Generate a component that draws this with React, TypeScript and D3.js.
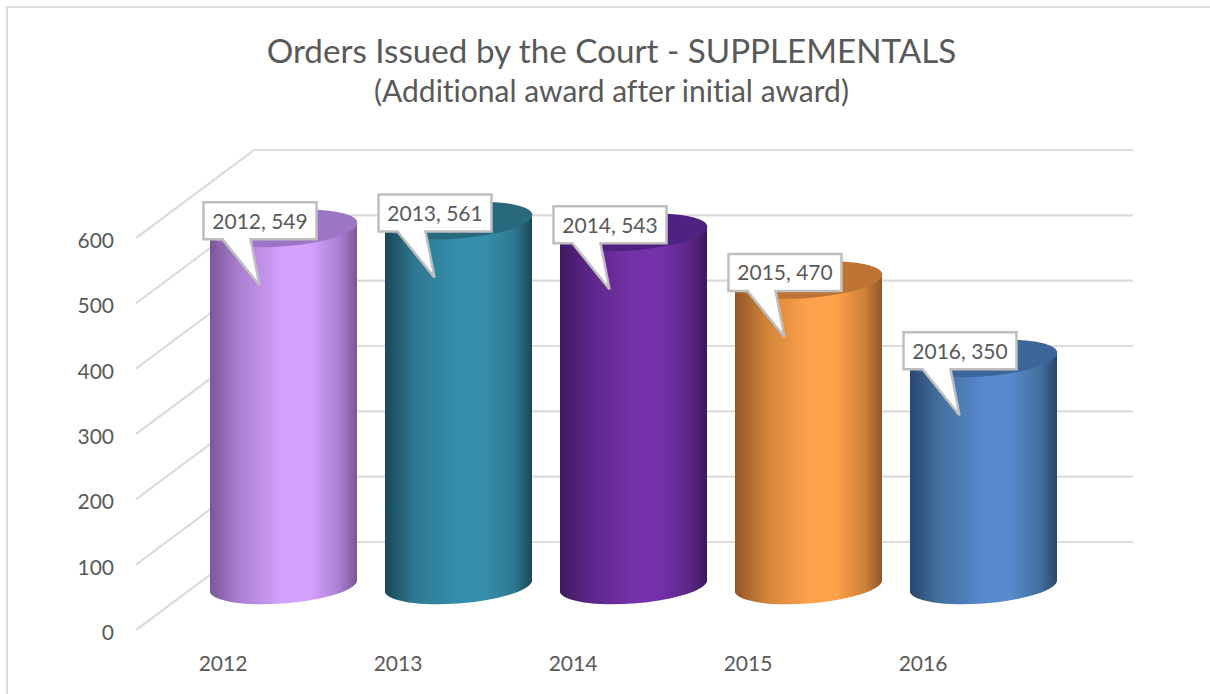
import * as d3 from 'd3';
import React from 'react';

const years = ['2012', '2013', '2014', '2015', '2016'];
const orders = [549, 561, 543, 470, 350];
const yTicks = [0, 100, 200, 300, 400, 500, 600];

// center, edge, top face
const centerColors = ['#d6a2ff', '#358fab', '#7431a9', '#ffa24c', '#5789cd'];
const edgeColors = ['#7c5698', '#1a4857', '#3d195e', '#915628', '#27476e'];
const midColors = ['#a97fd0', '#2e7890', '#5c2788', '#cf8238', '#44709f'];
const topColors = ['#9c75c4', '#28697d', '#4f2180', '#bd7434', '#3c6697'];

const width = 1210;
const height = 694;
const depthX = 118;
const depthY = -88;
const wallRight = 1133;
const cylHalfW = 73.5;
const tilt = 5.5;
const rx = 74;
const ry = 18;
const rot = -4.5;
const fontFamily = 'Lato, "Open Sans", sans-serif';
const textColor = '#595959';
const gridColor = '#dcdcdc';

const yFront = d3.scaleLinear().domain([0, 600]).range([630, 238]);
const xAxisLabel = d3.scalePoint().domain(years).range([223, 923]);
const xFront = 136;

// the cylinders stand about halfway into the floor depth
const cylX = (year: string) => (xAxisLabel(year) as number) + 60.5;
const cylY = (v: number) => yFront(v) + depthY / 2 + 1;

const cylinderBody = (cx: number, topY: number, baseY: number) =>
  `M${cx - cylHalfW},${topY + tilt}` +
  `A${rx},${ry} ${rot} 0 0 ${cx + cylHalfW},${topY - tilt}` +
  `L${cx + cylHalfW},${baseY - tilt}` +
  `A${rx},${ry} ${rot} 0 1 ${cx - cylHalfW},${baseY + tilt}Z`;

const callout = (left: number, top: number) => {
  const w = 113;
  const h = 37;
  return (
    `M${left},${top}H${left + w}V${top + h}H${left + 47}` +
    `L${left + 56},${top + h + 46}L${left + 19},${top + h}H${left}Z`
  );
};

function App() {
  return (
    <svg
      width={width}
      height={height}
      style={{ position: 'absolute', left: 0, top: 0, background: '#fff', fontVariantLigatures: 'none' }}
      fontFamily={fontFamily}
    >
      <defs>
        {years.map((year, i) => (
          <linearGradient key={year} id={`cyl-${year}`} x1="0" x2="1" y1="0" y2="0">
            <stop offset="0" stopColor={edgeColors[i]} />
            <stop offset="0.2" stopColor={midColors[i]} />
            <stop offset="0.5" stopColor={centerColors[i]} />
            <stop offset="0.68" stopColor={centerColors[i]} />
            <stop offset="0.88" stopColor={midColors[i]} />
            <stop offset="1" stopColor={edgeColors[i]} />
          </linearGradient>
        ))}
      </defs>

      <path d={`M7,${height}V7H${width}`} fill="none" stroke={gridColor} strokeWidth={2} />

      <text x={611.5} y={63} textAnchor="middle" fontSize={33.2} fill={textColor}>
        Orders Issued by the Court - SUPPLEMENTALS
      </text>
      <text x={611.5} y={102} textAnchor="middle" fontSize={30} fill={textColor}>
        (Additional award after initial award)
      </text>

      {yTicks.map((t) => {
        const y = yFront(t);
        return (
          <g key={t}>
            <path
              d={`M${xFront},${y}L${xFront + depthX},${y + depthY}H${wallRight}`}
              fill="none"
              stroke={gridColor}
              strokeWidth={2.2}
            />
            <text x={114} y={y + 10} textAnchor="end" fontSize={21} fill={textColor}>
              {t}
            </text>
          </g>
        );
      })}

      {years.map((year, i) => {
        const cx = cylX(year);
        const topY = cylY(orders[i]);
        const baseY = cylY(0);
        return (
          <g key={year}>
            <path d={cylinderBody(cx, topY, baseY)} fill={`url(#cyl-${year})`} />
            <ellipse
              cx={cx}
              cy={topY}
              rx={rx}
              ry={ry}
              transform={`rotate(${rot} ${cx} ${topY})`}
              fill={topColors[i]}
            />
            <text
              x={xAxisLabel(year)}
              y={671}
              textAnchor="middle"
              fontSize={21}
              fill={textColor}
            >
              {year}
            </text>
          </g>
        );
      })}

      {years.map((year, i) => {
        const left = cylX(year) - 80;
        const top = cylY(orders[i]) - 26;
        return (
          <g key={year}>
            <path d={callout(left, top)} fill="#fff" stroke="#bfbfbf" strokeWidth={2.5} />
            <text x={left + 56.5} y={top + 26.5} textAnchor="middle" fontSize={21} fill={textColor}>
              {`${year}, ${orders[i]}`}
            </text>
          </g>
        );
      })}
    </svg>
  );
}

export default App;
